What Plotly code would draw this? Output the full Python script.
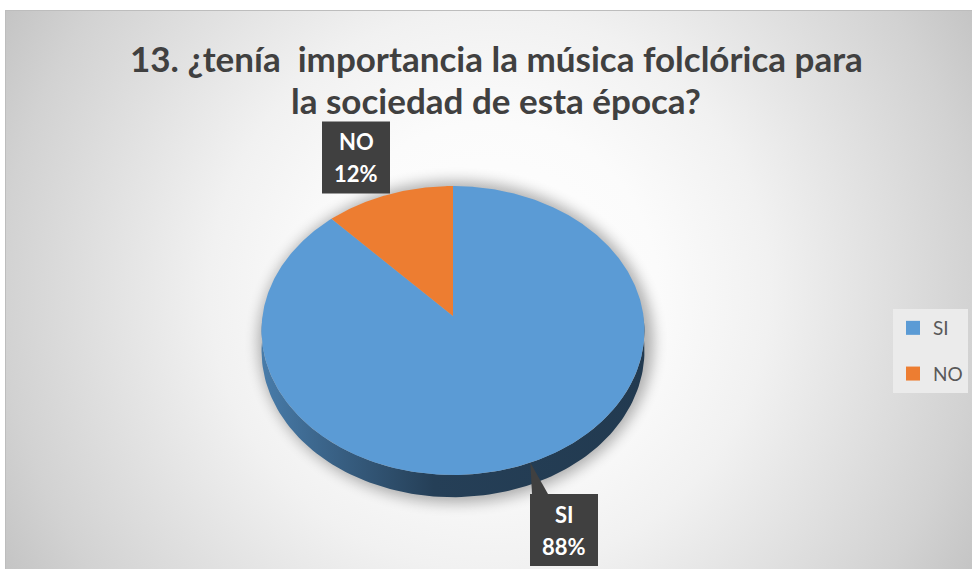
import base64
import numpy as np
import plotly.graph_objects as go

# ---- data ----
categories = ["SI", "NO"]
values = [88, 12]
slice_colors = ["#5B9BD5", "#ED7D31"]
title_lines = ["13. ¿tenía  importancia la música folclórica para",
               "la sociedad de esta época?"]

# ---- canvas ----
W, H = 972, 569

# ---- tilted pie geometry (pixels) ----
CX, CY = 453.0, 316.0      # pie centre on screen
RA, RB = 190.5, 143.0      # horizontal / vertical radius of the top face
PERSP = 0.1003             # perspective factor (far side shrinks)
DEPTH = 20.0               # thickness of the pie


def project(theta_deg, z=0.0, r=1.0):
    """Clockwise angle from 12 o'clock on the disc -> screen pixel coords."""
    t = np.radians(theta_deg)
    u, v = r * np.sin(t), r * np.cos(t)
    s = 1.0 / (1.0 + PERSP * v)
    return CX + RA * u * s, CY - RB * v * s + DEPTH * z * s


def hex_rgb(h):
    h = h.lstrip("#")
    return tuple(int(h[i:i + 2], 16) for i in (0, 2, 4))


def shade(h, f):
    r, g, b = hex_rgb(h)
    return "rgb(%d,%d,%d)" % (r * f, g * f, b * f)


total = float(sum(values))
fractions = [v / total for v in values]
starts = np.concatenate([[0.0], np.cumsum(fractions)[:-1]]) * 360.0
ends = np.cumsum(fractions) * 360.0

fig = go.Figure()

# side wall: the visible front part of each slice (angles 90..270)
for cat, a0, a1, col in zip(categories, starts, ends, slice_colors):
    lo, hi = max(a0, 90.0), min(a1, 270.0)
    if hi <= lo:
        continue
    th = np.linspace(lo, hi, 120)
    xt, yt = project(th, 0.0)
    xb, yb = project(th[::-1], 1.0)
    fig.add_trace(go.Scatter(
        x=np.concatenate([xt, xb]), y=np.concatenate([yt, yb]),
        mode="lines", fill="toself", line=dict(width=0),
        fillgradient=dict(type="horizontal", colorscale=[
            [0.0, shade(col, 0.80)], [0.15, shade(col, 0.66)],
            [0.45, shade(col, 0.41)], [1.0, shade(col, 0.38)]]),
        hoverinfo="skip", showlegend=False))

# top face wedges
for cat, a0, a1, col, v in zip(categories, starts, ends, slice_colors, values):
    th = np.linspace(a0, a1, max(int((a1 - a0) * 2), 8))
    xe, ye = project(th)
    fig.add_trace(go.Scatter(
        x=np.concatenate([[CX], xe, [CX]]), y=np.concatenate([[CY], ye, [CY]]),
        mode="lines", fill="toself", fillcolor=col, line=dict(width=0, color=col),
        name=cat, hovertemplate=f"{cat}: {v}%<extra></extra>", showlegend=False))

# legend entries
for cat, col in zip(categories, slice_colors):
    fig.add_trace(go.Scatter(
        x=[None], y=[None], mode="markers", name=cat, legendgroup=cat,
        marker=dict(symbol="square", size=14, color=col)))

# ---- data label callouts ----
LABEL_W, LABEL_H = 68, 72
label_centres = {"SI": (564.0, 530.0), "NO": (356.0, 157.5)}
BOX = "#404040"
shapes = []
annotations = []
for cat, a0, a1, v in zip(categories, starts, ends, values):
    lx, ly = label_centres[cat]
    x0, x1 = lx - LABEL_W / 2, lx + LABEL_W / 2
    y0, y1 = ly - LABEL_H / 2, ly + LABEL_H / 2
    # pointer towards the middle of the slice on the outer rim
    tx, ty = project((a0 + a1) / 2.0, 0.0)
    if ty > y1:
        base = [(x1 - 26, y1), (x1 - 10, y1)]
    else:
        bx = min(max(tx, x0 + 10), x1 - 10)
        base = [(bx - 8, y0), (bx + 8, y0)]
    fig.add_trace(go.Scatter(
        x=[base[0][0], float(tx), base[1][0], base[0][0]],
        y=[base[0][1], float(ty), base[1][1], base[0][1]],
        mode="lines", fill="toself", fillcolor=BOX, line=dict(width=0),
        hoverinfo="skip", showlegend=False))
    shapes.append(dict(type="rect", xref="x", yref="y", x0=x0, x1=x1, y0=y0, y1=y1,
                       fillcolor=BOX, line=dict(width=0), layer="above"))
    for txt, dy in ((cat, -16), (f"{v}%", 16)):
        annotations.append(dict(
            x=lx, y=ly + dy, xref="x", yref="y", text=txt, showarrow=False,
            font=dict(family="Lato", size=22, color="white", weight="bold")))

# title
for i, line in enumerate(title_lines):
    annotations.append(dict(
        x=496, y=58 + i * 42, xref="x", yref="y", text=line, showarrow=False,
        font=dict(family="Lato", size=35, color="#404040", weight="bold")))

# ---- background: radial grey gradient, border and soft pie shadow ----
svg = f"""<svg xmlns='http://www.w3.org/2000/svg' width='{W}' height='{H}' viewBox='0 0 {W} {H}'>
<defs>
<radialGradient id='bg' gradientUnits='userSpaceOnUse' cx='490' cy='290' r='560'>
<stop offset='0' stop-color='#ffffff'/><stop offset='0.3' stop-color='#fbfbfb'/>
<stop offset='0.5' stop-color='#f1f1f1'/><stop offset='0.87' stop-color='#d2d2d2'/>
<stop offset='1' stop-color='#c4c4c4'/></radialGradient>
<filter id='blur' x='-20%' y='-20%' width='140%' height='140%'><feGaussianBlur stdDeviation='7'/></filter>
</defs>
<rect x='0' y='0' width='{W}' height='{H}' fill='#ffffff'/>
<rect x='5.5' y='10.5' width='{W}' height='{H}' fill='url(#bg)' stroke='#bdbdbd' stroke-width='1'/>
<ellipse cx='{CX + 3}' cy='{CY + 26}' rx='{RA + 7}' ry='{RB + 18}' fill='#000' opacity='0.30' filter='url(#blur)'/>
</svg>"""
bg_uri = "data:image/svg+xml;base64," + base64.b64encode(svg.encode("utf-8")).decode()

fig.update_layout(
    width=W, height=H, margin=dict(l=0, r=0, t=0, b=0),
    paper_bgcolor="white", plot_bgcolor="rgba(0,0,0,0)",
    xaxis=dict(range=[0, W], visible=False, fixedrange=True),
    yaxis=dict(range=[H, 0], visible=False, fixedrange=True),
    images=[dict(source=bg_uri, xref="paper", yref="paper", x=0, y=1,
                 sizex=1, sizey=1, xanchor="left", yanchor="top",
                 sizing="stretch", layer="below")],
    shapes=shapes, annotations=annotations,
    legend=dict(x=893 / W, y=1 - 309 / H, xanchor="left", yanchor="top",
                bgcolor="#ebebeb", font=dict(family="Lato", size=19, color="#595959"),
                traceorder="grouped", tracegroupgap=18, itemwidth=30),
    showlegend=True,
)

fig.write_html("out.html")
